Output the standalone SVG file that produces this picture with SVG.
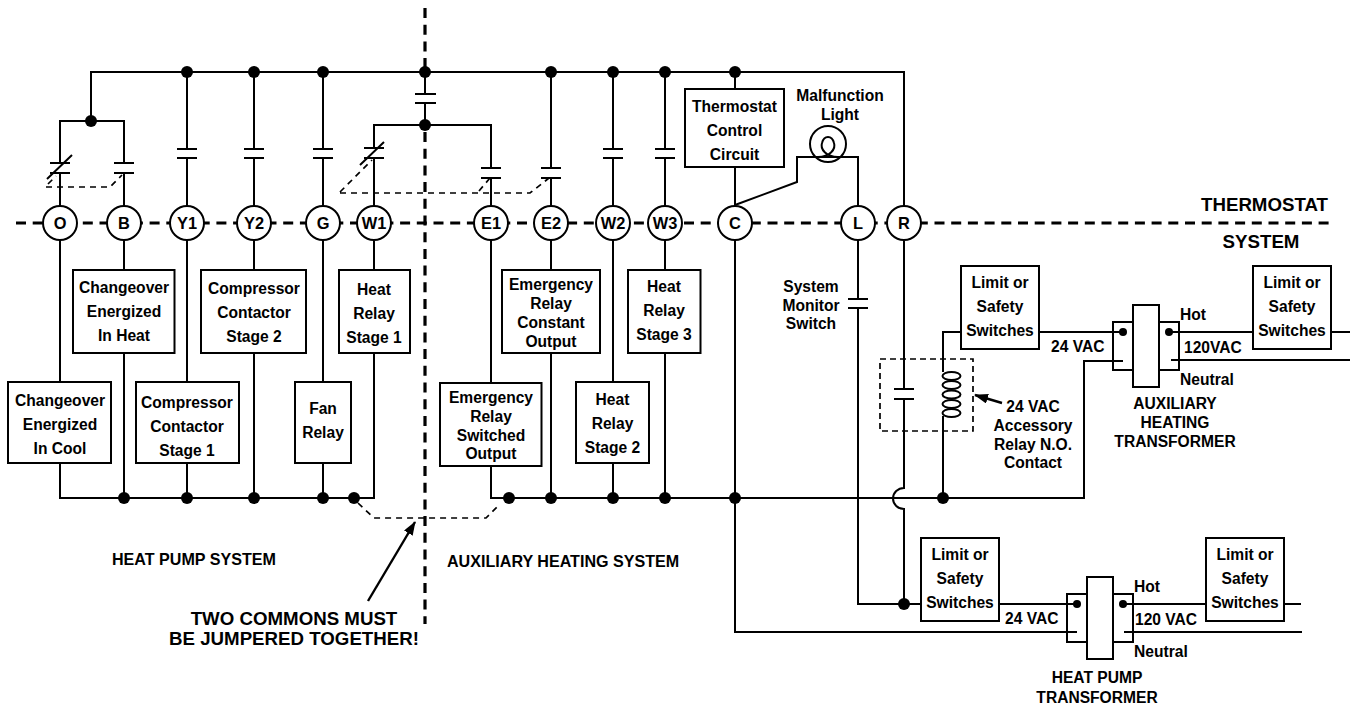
<svg xmlns="http://www.w3.org/2000/svg" width="1351" height="704" viewBox="0 0 1351 704">
<style>
text{font-family:"Liberation Sans",Arial,sans-serif;font-weight:700;font-size:15.6px;fill:#000;text-anchor:middle}
.s{text-anchor:start}
.e{text-anchor:end}
.b{font-size:18.7px}
.h{font-size:16.1px}
.w{fill:none;stroke:#000;stroke-width:2}
.a{fill:none;stroke:#000;stroke-width:2.4}
.bx{fill:#fff;stroke:#000;stroke-width:2}
.d{fill:#000}
.div{fill:none;stroke:#000;stroke-width:3.2;stroke-dasharray:10 6.7}
.jd{fill:none;stroke:#000;stroke-width:1.7;stroke-dasharray:6 5}
.t{fill:#fff;stroke:#000;stroke-width:2}
.n{font-size:16.4px}
</style>
<defs>
<marker id="ah" markerUnits="userSpaceOnUse" markerWidth="14" markerHeight="10" refX="13" refY="5" orient="auto"><path d="M0 0L14 5L0 10Z" fill="#000"/></marker>
</defs>
<g id="dividers">
<path class="div" d="M425 8V72"/>
<path class="div" d="M425 132V624"/>
<path class="div" d="M16 223H1329"/>
</g>
<g id="connectors">
<path class="w" d="M91 121V72H904V205M60 163V121H124V163"/>
<path class="w" d="M60 173V498H374V241M124 173V498M187 72V149M187 158V498M254 72V149M254 158V498M323 72V149M323 158V498"/>
<path class="w" d="M425 72V94M425 103V125M374 148V125H491V168M374 158V205"/>
<path class="w" d="M491 178V498H1084V361H1123M551 72V168M551 178V498M613 72V149M613 158V498M665 72V149M665 158V498"/>
<path class="w" d="M735 72V632H1077M735 205L797 182V157H858V299M858 308V604H921M999 604H1077"/>
<path class="w" d="M818 157C830 157 836 149 834 143C832 135 824 135 822 143C820 149 826 157 838 157"/>
<path class="w" d="M904 241V389M904 399V488A11 10.500 0 0 0 904 509V604"/>
<path class="w" d="M943 498V416M943 372V332H961M1039 332H1123M1169 332H1253M1331 332H1350M1171 360H1350"/>
<path class="w" d="M1123 604H1206M1284 604H1301M1124 632H1302"/>
<path class="w" d="M50 163H70M50 173H70M114 163H134M114 173H134M177 149H197M177 158H197M244 149H264M244 158H264M313 149H333M313 158H333M415 94H436M415 103H436M364 148H384M364 158H384M481 168H501M481 178H501M541 168H561M541 178H561M603 149H623M603 158H623M655 149H675M655 158H675M848 299H868M848 308H868M894 389H914M894 399H914"/>
<path class="w" d="M47 179L72 155M360 165L384 142"/>
<path class="jd" d="M48 184L56 176M46 187H110L122 175"/>
<path class="jd" d="M340 192L372 160M340 193H530L549 178M479 191L490 178"/>
<path class="jd" d="M358 503L374 518H486L500 504"/>
<path class="a" marker-end="url(#ah)" d="M368 601L415 522"/>
<path class="a" marker-end="url(#ah)" d="M1002 403L975 395"/>
<g class="d">
<circle cx="187" cy="72" r="6"/><circle cx="254" cy="72" r="6"/><circle cx="323" cy="72" r="6"/><circle cx="425" cy="72" r="6"/><circle cx="551" cy="72" r="6"/><circle cx="613" cy="72" r="6"/><circle cx="665" cy="72" r="6"/><circle cx="735" cy="72" r="6"/>
<circle cx="91" cy="121" r="6"/><circle cx="425" cy="125" r="6"/>
<circle cx="124" cy="498" r="6"/><circle cx="187" cy="498" r="6"/><circle cx="254" cy="498" r="6"/><circle cx="323" cy="498" r="6"/><circle cx="354" cy="498" r="6"/>
<circle cx="509" cy="498" r="6"/><circle cx="551" cy="498" r="6"/><circle cx="613" cy="498" r="6"/><circle cx="665" cy="498" r="6"/><circle cx="735" cy="498" r="6"/><circle cx="943" cy="498" r="6"/>
<circle cx="904" cy="604" r="6"/>
</g>
</g>
<g id="lamp"><circle class="w" cx="828" cy="144" r="18"/><text x="840" y="101">Malfunction</text><text x="840" y="120">Light</text></g>
<g id="relay-box">
<rect x="880" y="359" width="93" height="72" fill="none" stroke="#000" stroke-width="1.7" stroke-dasharray="6 4"/>
<g class="w"><ellipse cx="951.500" cy="376" rx="9" ry="4"/><ellipse cx="951.500" cy="385" rx="9" ry="4"/><ellipse cx="951.500" cy="394.500" rx="9" ry="4"/><ellipse cx="951.500" cy="404" rx="9" ry="4"/><ellipse cx="951.500" cy="413" rx="9" ry="4"/></g>
</g>
<g id="term-O"><circle class="t" cx="60" cy="223" r="17"/><text class="n" x="60" y="229">O</text></g>
<g id="term-B"><circle class="t" cx="124" cy="223" r="17"/><text class="n" x="124" y="229">B</text></g>
<g id="term-Y1"><circle class="t" cx="187" cy="223" r="17"/><text class="n" x="187" y="229">Y1</text></g>
<g id="term-Y2"><circle class="t" cx="254" cy="223" r="17"/><text class="n" x="254" y="229">Y2</text></g>
<g id="term-G"><circle class="t" cx="323" cy="223" r="17"/><text class="n" x="323" y="229">G</text></g>
<g id="term-W1"><circle class="t" cx="374" cy="223" r="17"/><text class="n" x="374" y="229">W1</text></g>
<g id="term-E1"><circle class="t" cx="491" cy="223" r="17"/><text class="n" x="491" y="229">E1</text></g>
<g id="term-E2"><circle class="t" cx="551" cy="223" r="17"/><text class="n" x="551" y="229">E2</text></g>
<g id="term-W2"><circle class="t" cx="613" cy="223" r="17"/><text class="n" x="613" y="229">W2</text></g>
<g id="term-W3"><circle class="t" cx="665" cy="223" r="17"/><text class="n" x="665" y="229">W3</text></g>
<g id="term-C"><circle class="t" cx="735" cy="223" r="17"/><text class="n" x="735" y="229">C</text></g>
<g id="term-L"><circle class="t" cx="858" cy="223" r="17"/><text class="n" x="858" y="229">L</text></g>
<g id="term-R"><circle class="t" cx="904" cy="223" r="17"/><text class="n" x="904" y="229">R</text></g>
<g id="box-thermostat"><rect class="bx" x="685" y="89" width="99" height="78"/><text x="734.500" y="112">Thermostat</text><text x="734.500" y="136">Control</text><text x="734.500" y="160">Circuit</text></g>
<g id="box-cool"><rect class="bx" x="8" y="382" width="103" height="81"/><text x="60" y="406">Changeover</text><text x="60" y="430">Energized</text><text x="60" y="454">In Cool</text></g>
<g id="box-heat"><rect class="bx" x="73" y="270" width="101.500" height="83"/><text x="124" y="293">Changeover</text><text x="124" y="317">Energized</text><text x="124" y="341">In Heat</text></g>
<g id="box-comp1"><rect class="bx" x="136" y="382" width="103" height="81"/><text x="187" y="408">Compressor</text><text x="187" y="432">Contactor</text><text x="187" y="456">Stage 1</text></g>
<g id="box-comp2"><rect class="bx" x="201" y="270" width="105" height="83"/><text x="254" y="294">Compressor</text><text x="254" y="318">Contactor</text><text x="254" y="342">Stage 2</text></g>
<g id="box-fan"><rect class="bx" x="295" y="382" width="56" height="81"/><text x="323" y="414">Fan</text><text x="323" y="438">Relay</text></g>
<g id="box-heat1"><rect class="bx" x="339" y="270" width="71" height="83"/><text x="374" y="295">Heat</text><text x="374" y="319">Relay</text><text x="374" y="343">Stage 1</text></g>
<g id="box-em-switched"><rect class="bx" x="440" y="383" width="101.500" height="83"/><text x="491" y="403">Emergency</text><text x="491" y="422">Relay</text><text x="491" y="441">Switched</text><text x="491" y="459">Output</text></g>
<g id="box-em-constant"><rect class="bx" x="502" y="270" width="98" height="83"/><text x="551" y="290">Emergency</text><text x="551" y="309">Relay</text><text x="551" y="328">Constant</text><text x="551" y="347">Output</text></g>
<g id="box-heat2"><rect class="bx" x="576" y="382" width="73" height="81"/><text x="612.500" y="405">Heat</text><text x="612.500" y="429">Relay</text><text x="612.500" y="453">Stage 2</text></g>
<g id="box-heat3"><rect class="bx" x="628" y="270" width="72.500" height="83"/><text x="664" y="292">Heat</text><text x="664" y="316">Relay</text><text x="664" y="340">Stage 3</text></g>
<g id="box-limit1"><rect class="bx" x="961" y="266" width="78" height="83"/><text x="1000" y="288">Limit or</text><text x="1000" y="312">Safety</text><text x="1000" y="336">Switches</text></g>
<g id="box-limit2"><rect class="bx" x="1253" y="266" width="78" height="83"/><text x="1292" y="288">Limit or</text><text x="1292" y="312">Safety</text><text x="1292" y="336">Switches</text></g>
<g id="box-limit3"><rect class="bx" x="921" y="538" width="78" height="83"/><text x="960" y="560">Limit or</text><text x="960" y="584">Safety</text><text x="960" y="608">Switches</text></g>
<g id="box-limit4"><rect class="bx" x="1206" y="538" width="78" height="83"/><text x="1245" y="560">Limit or</text><text x="1245" y="584">Safety</text><text x="1245" y="608">Switches</text></g>
<g id="transformer-aux">
<path class="w" d="M1133 322H1113V370H1133M1159 322H1179V370H1159"/>
<rect class="bx" x="1133" y="305" width="26" height="82"/>
<circle class="d" cx="1123" cy="332" r="4"/><circle class="d" cx="1169" cy="332" r="4"/>
<text x="1175" y="409">AUXILIARY</text><text x="1175" y="428">HEATING</text><text x="1175" y="447">TRANSFORMER</text>
</g>
<g id="transformer-hp">
<path class="w" d="M1087 594H1067V642H1087M1113 594H1133V642H1113"/>
<rect class="bx" x="1087" y="577" width="26" height="82"/>
<circle class="d" cx="1077" cy="604" r="4"/><circle class="d" cx="1123" cy="604" r="4"/>
<text x="1097" y="683">HEAT PUMP</text><text x="1097" y="703">TRANSFORMER</text>
</g>
<g id="labels">
<text x="811" y="292">System</text><text x="811" y="311">Monitor</text><text x="811" y="329">Switch</text>
<text x="1033" y="412">24 VAC</text><text x="1033" y="431">Accessory</text><text x="1033" y="450">Relay N.O.</text><text x="1033" y="468">Contact</text>
<text class="s" x="1051" y="352">24 VAC</text><text class="s" x="1180" y="320">Hot</text><text class="s" x="1184" y="353">120VAC</text><text class="s" x="1180" y="385">Neutral</text>
<text class="s" x="1005" y="624">24 VAC</text><text class="s" x="1134" y="592">Hot</text><text class="s" x="1135" y="625">120 VAC</text><text class="s" x="1134" y="657">Neutral</text>
<text class="s h" x="112" y="565">HEAT PUMP SYSTEM</text>
<text class="s h" x="447" y="567">AUXILIARY HEATING SYSTEM</text>
<text class="b" x="294" y="625">TWO COMMONS MUST</text><text class="b" x="294" y="645">BE JUMPERED TOGETHER!</text>
<text class="b e" x="1328" y="211">THERMOSTAT</text><text class="b" x="1261" y="248">SYSTEM</text>
</g>
</svg>
